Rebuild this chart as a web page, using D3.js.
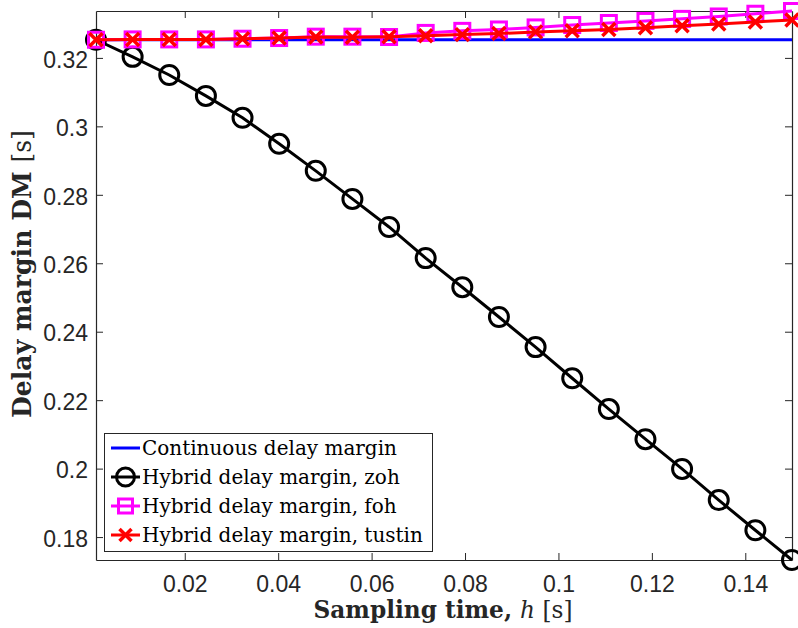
<!DOCTYPE html>
<html><head><meta charset="utf-8">
<script src="https://cdn.jsdelivr.net/npm/d3@7"></script>
<style>body{margin:0;background:#fff}svg{display:block}</style>
</head><body><svg id="c" width="798" height="628"></svg>
<script>
const h = [0.001,0.00884,0.01668,0.02453,0.03237,0.04021,0.04805,0.05589,0.06374,0.07158,0.07942,0.08726,0.09511,0.10295,0.11079,0.11863,0.12647,0.13432,0.14216,0.15];
const continuousDM = [0.3253,0.3253,0.3253,0.3253,0.3253,0.3253,0.3253,0.3253,0.3253,0.3253,0.3253,0.3253,0.3253,0.3253,0.3253,0.3253,0.3253,0.3253,0.3253,0.3253];
const zohDM = [0.3253,0.3203,0.3150,0.3089,0.3025,0.2949,0.2870,0.2788,0.2706,0.2615,0.2530,0.2443,0.2355,0.2264,0.2174,0.2086,0.1999,0.1908,0.1820,0.1733];
const fohDM = [0.3253,0.3254,0.3254,0.3254,0.3256,0.3258,0.3262,0.3262,0.3261,0.3273,0.3279,0.3283,0.3289,0.3296,0.3302,0.3308,0.3314,0.3321,0.3329,0.3337];
const tustinDM = [0.3253,0.3254,0.3254,0.3254,0.3256,0.3258,0.3261,0.3260,0.3262,0.3265,0.3268,0.3271,0.3276,0.3279,0.3283,0.3288,0.3294,0.3299,0.3305,0.3311];
const xTicks = [0.02,0.04,0.06,0.08,0.1,0.12,0.14];
const yTicks = [0.18,0.2,0.22,0.24,0.26,0.28,0.3,0.32];
const legendLabels = ["Continuous delay margin","Hybrid delay margin, zoh","Hybrid delay margin, foh","Hybrid delay margin, tustin"];

const L=96,R=792,T=11,B=560;
const svg=d3.select("#c");
const x=d3.scaleLinear().domain([0.001,0.15]).range([L,R]);
const y=d3.scaleLinear().domain([d3.min(zohDM),d3.max(fohDM)]).range([B,T]);

const tickFont='"Liberation Sans", Arial, sans-serif';
const serif='"DejaVu Serif", "Liberation Serif", serif';
const tl=7;
function fit(sel,target){const w=sel.node().getComputedTextLength();const fs=parseFloat(sel.style("font-size"));sel.style("font-size",(fs*target/w).toFixed(2)+"px");}

// axes
const gx=svg.append("g").attr("transform",`translate(0,${B})`).call(d3.axisBottom(x).tickValues(xTicks).tickFormat(d3.format("")).tickSizeInner(-tl).tickSizeOuter(0).tickPadding(16));
const gxt=svg.append("g").attr("transform",`translate(0,${T})`).call(d3.axisTop(x).tickValues(xTicks).tickFormat("").tickSizeInner(-tl).tickSizeOuter(0));
const gy=svg.append("g").attr("transform",`translate(${L},0)`).call(d3.axisLeft(y).tickValues(yTicks).tickFormat(d3.format("")).tickSizeInner(-tl).tickSizeOuter(0).tickPadding(8));
const gyr=svg.append("g").attr("transform",`translate(${R},0)`).call(d3.axisRight(y).tickValues(yTicks).tickFormat("").tickSizeInner(-tl).tickSizeOuter(0));
[gx,gxt,gy,gyr].forEach(g=>{g.selectAll("path").attr("stroke","#262626").attr("stroke-width",1.2);g.selectAll("line").attr("stroke","#262626").attr("stroke-width",1);g.selectAll("text").attr("fill","#262626").style("font-family",tickFont).style("font-size","23px");});
gy.selectAll("text").attr("dy","0.4em");

// series
const line=d3.line().x((d,i)=>x(h[i])).y(d=>y(d));
function drawLine(data,color){svg.append("path").datum(data).attr("d",line).attr("fill","none").attr("stroke",color).attr("stroke-width",3);}
drawLine(continuousDM,"#0000ff");
drawLine(zohDM,"#000000");
svg.append("g").selectAll("circle").data(zohDM).join("circle").attr("cx",(d,i)=>x(h[i])).attr("cy",d=>y(d)).attr("r",9.5).attr("fill","none").attr("stroke","#000").attr("stroke-width",3);
drawLine(fohDM,"#ff00ff");
svg.append("g").selectAll("rect").data(fohDM).join("rect").attr("x",(d,i)=>x(h[i])-7.5).attr("y",d=>y(d)-7.5).attr("width",15).attr("height",15).attr("fill","none").attr("stroke","#ff00ff").attr("stroke-width",3);
drawLine(tustinDM,"#ff0000");
const xs=6.5;
svg.append("g").selectAll("path").data(tustinDM).join("path").attr("d",(d,i)=>{const cx=x(h[i]),cy=y(d);return `M${cx-xs},${cy-xs}L${cx+xs},${cy+xs}M${cx-xs},${cy+xs}L${cx+xs},${cy-xs}`;}).attr("stroke","#ff0000").attr("stroke-width",3.5).attr("fill","none");

// axis labels
const xl=svg.append("text").attr("x",443).attr("y",618).attr("text-anchor","middle").style("font-family",serif).style("font-size","20px").style("font-weight","bold").attr("fill","#262626");
xl.append("tspan").text("Sampling time, ");
xl.append("tspan").text("h").style("font-style","italic").style("font-weight","normal");
xl.append("tspan").text(" [s]").style("font-weight","normal");
fit(xl,259);
const yl=svg.append("text").attr("transform",`translate(31,274) rotate(-90)`).attr("text-anchor","middle").style("font-family",serif).style("font-size","20px").style("font-weight","bold").attr("fill","#262626");
yl.append("tspan").text("Delay margin DM ");
yl.append("tspan").text("[s]").style("font-weight","normal");
fit(yl,288);

// legend
const lg=svg.append("g");
lg.append("rect").attr("x",104.5).attr("y",433.5).attr("width",328).attr("height",118).attr("fill","#fff").attr("stroke","#262626").attr("stroke-width",1);
const colors=["#0000ff","#000000","#ff00ff","#ff0000"];
legendLabels.forEach((lab,i)=>{
  const cy=448+i*29, x0=111,x1=140,cx=(x0+x1)/2;
  lg.append("line").attr("x1",x0).attr("x2",x1).attr("y1",cy).attr("y2",cy).attr("stroke",colors[i]).attr("stroke-width",3);
  if(i===1) lg.append("circle").attr("cx",cx).attr("cy",cy).attr("r",9).attr("fill","none").attr("stroke","#000").attr("stroke-width",3);
  if(i===2) lg.append("rect").attr("x",cx-7).attr("y",cy-7).attr("width",14).attr("height",14).attr("fill","none").attr("stroke","#ff00ff").attr("stroke-width",3);
  if(i===3) lg.append("path").attr("d",`M${cx-6},${cy-6}L${cx+6},${cy+6}M${cx-6},${cy+6}L${cx+6},${cy-6}`).attr("stroke","#ff0000").attr("stroke-width",3.5);
  const t=lg.append("text").attr("x",142).attr("y",cy).attr("dy","0.35em").text(lab).style("font-family",serif).style("font-size","18px").attr("fill","#000");
  if(i===0) fit(t,255);
  else t.style("font-size",lg.select("text").style("font-size"));
});
</script></body></html>
